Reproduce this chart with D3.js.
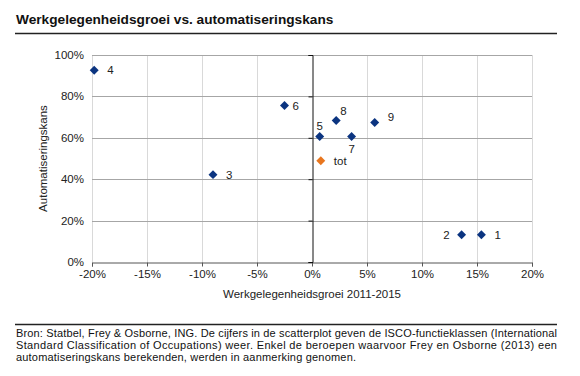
<!DOCTYPE html>
<html>
<head>
<meta charset="utf-8">
<script src="https://cdn.jsdelivr.net/npm/d3@7"></script>
<style>
  body { margin: 0; background: #fff; }
  svg text { font-family: "Liberation Sans", Arial, sans-serif; }
</style>
</head>
<body>
<svg id="chart" width="580" height="376"></svg>
<script>
// Data
var labels = ["1", "2", "3", "4", "5", "6", "7", "8", "9", "tot"];
var growth = [15.4, 13.6, -9.0, -19.8, 0.7, -2.5, 3.6, 2.2, 5.7, 0.8];
var automation = [13.2, 13.2, 42.2, 92.6, 60.6, 75.6, 60.6, 68.4, 67.4, 48.9];
var xTicks = [-20, -15, -10, -5, 0, 5, 10, 15, 20];
var yTicks = [0, 20, 40, 60, 80, 100];
// label placement relative to the marker
var labelPos = ["right", "left", "right", "right", "above", "right", "below", "aboveRight", "right", "right"];

var footerLines = [
    "Bron: Statbel, Frey & Osborne, ING. De cijfers in de scatterplot geven de ISCO-functieklassen (International",
    "Standard Classification of Occupations) weer. Enkel de beroepen waarvoor Frey en Osborne (2013) een",
    "automatiseringskans berekenden, werden in aanmerking genomen."
];
var footerWidths = [541, 541, 340];

var FONT = "'Liberation Sans', Arial, sans-serif";
var svg = d3.select("#chart");

var x = d3.scaleLinear().domain([-20, 20]).range([92, 532]);
var y = d3.scaleLinear().domain([0, 100]).range([262, 55]);

// Title and rules
var title = svg.append("text")
    .attr("x", 16).attr("y", 24)
    .attr("font-size", 13).attr("font-weight", "bold")
    .attr("fill", "#111")
    .text("Werkgelegenheidsgroei vs.");
// size the title so that "Werkgelegenheidsgroei vs." is ~177px wide, like the original
var tw = title.node().getComputedTextLength();
title.attr("font-size", 13 * 177 / tw)
    .text("Werkgelegenheidsgroei vs. automatiseringskans");

svg.append("line")
    .attr("x1", 15).attr("x2", 557).attr("y1", 33.5).attr("y2", 33.5)
    .attr("stroke", "#222").attr("stroke-width", 1.3);

svg.append("line")
    .attr("x1", 15).attr("x2", 557).attr("y1", 324.5).attr("y2", 324.5)
    .attr("stroke", "#222").attr("stroke-width", 1.3);

// Vertical gridlines
svg.append("g").selectAll("line")
    .data(xTicks.filter(function (d) { return d !== 0; }))
    .enter().append("line")
    .attr("x1", function (d) { return Math.round(x(d)) + 0.5; })
    .attr("x2", function (d) { return Math.round(x(d)) + 0.5; })
    .attr("y1", y(100)).attr("y2", y(0))
    .attr("stroke", "#d9d9d9");

// Horizontal gridlines
svg.append("g").selectAll("line")
    .data(yTicks.filter(function (d) { return d !== 0; }))
    .enter().append("line")
    .attr("x1", x(-20)).attr("x2", x(20))
    .attr("y1", function (d) { return Math.round(y(d)) + 0.5; })
    .attr("y2", function (d) { return Math.round(y(d)) + 0.5; })
    .attr("stroke", "#a6a6a6");

// X axis at the bottom
var xAxis = d3.axisBottom(x)
    .tickValues(xTicks)
    .tickSize(4)
    .tickPadding(3)
    .tickFormat(function (d) { return d + "%"; });

var gx = svg.append("g")
    .attr("transform", "translate(0," + (Math.round(y(0)) + 0.5) + ")")
    .call(xAxis);
gx.select(".domain").attr("stroke", "#555");
gx.selectAll(".tick line").attr("stroke", "#555");
gx.selectAll("text").attr("font-size", 11.5).attr("fill", "#222")
    .attr("font-family", FONT);

// Y axis at x = 0
var yAxis = d3.axisLeft(y)
    .tickValues(yTicks)
    .tickSize(4)
    .tickFormat("");

var gy = svg.append("g")
    .attr("transform", "translate(" + (Math.round(x(0)) + 0.5) + ",0)")
    .call(yAxis);
gy.select(".domain").attr("stroke", "#111");
gy.selectAll(".tick line").attr("stroke", "#111");

// Y tick labels at the left edge
svg.append("g").selectAll("text")
    .data(yTicks)
    .enter().append("text")
    .attr("x", 84)
    .attr("y", function (d) { return y(d) + 4; })
    .attr("text-anchor", "end")
    .attr("font-size", 11.5).attr("fill", "#222")
    .text(function (d) { return d + "%"; });

// Axis titles
svg.append("text")
    .attr("x", 312).attr("y", 298)
    .attr("text-anchor", "middle")
    .attr("font-size", 11.5).attr("fill", "#222")
    .text("Werkgelegenheidsgroei 2011-2015");

svg.append("text")
    .attr("transform", "translate(47," + y(50) + ") rotate(-90)")
    .attr("text-anchor", "middle")
    .attr("font-size", 11.5).attr("fill", "#222")
    .text("Automatiseringskans");

// Points
var points = labels.map(function (d, i) {
    return { label: d, gx: growth[i], au: automation[i], pos: labelPos[i] };
});

var diamond = d3.symbol().type(d3.symbolSquare).size(40);

svg.append("g").selectAll("path")
    .data(points)
    .enter().append("path")
    .attr("d", diamond)
    .attr("transform", function (d) {
        return "translate(" + x(d.gx) + "," + y(d.au) + ") rotate(45)";
    })
    .attr("fill", function (d) { return d.label === "tot" ? "#e8761e" : "#0b3480"; });

// Point labels
svg.append("g").selectAll("text")
    .data(points)
    .enter().append("text")
    .attr("x", function (d) {
        var px = x(d.gx);
        if (d.pos === "right") return px + (d.label === "6" ? 8 : 13);
        if (d.pos === "left") return px - 12;
        if (d.pos === "aboveRight") return px + 4;
        return px;
    })
    .attr("y", function (d) {
        var py = y(d.au);
        if (d.pos === "above") return py - 7;
        if (d.pos === "aboveRight") return py - 5;
        if (d.pos === "below") return py + 16;
        if (d.label === "9") return py - 1;
        return py + 4;
    })
    .attr("text-anchor", function (d) {
        if (d.pos === "left") return "end";
        if (d.pos === "above" || d.pos === "below") return "middle";
        return "start";
    })
    .attr("font-size", 11.5).attr("fill", "#222")
    .text(function (d) { return d.label; });

// Footer (justified lines)
svg.append("g").selectAll("text")
    .data(footerLines)
    .enter().append("text")
    .attr("x", 16)
    .attr("y", function (d, i) { return 337 + i * 12.2; })
    .attr("font-size", 11).attr("fill", "#111")
    .attr("textLength", function (d, i) { return footerWidths[i]; })
    .attr("lengthAdjust", "spacing")
    .text(function (d) { return d; });
</script>
</body>
</html>
